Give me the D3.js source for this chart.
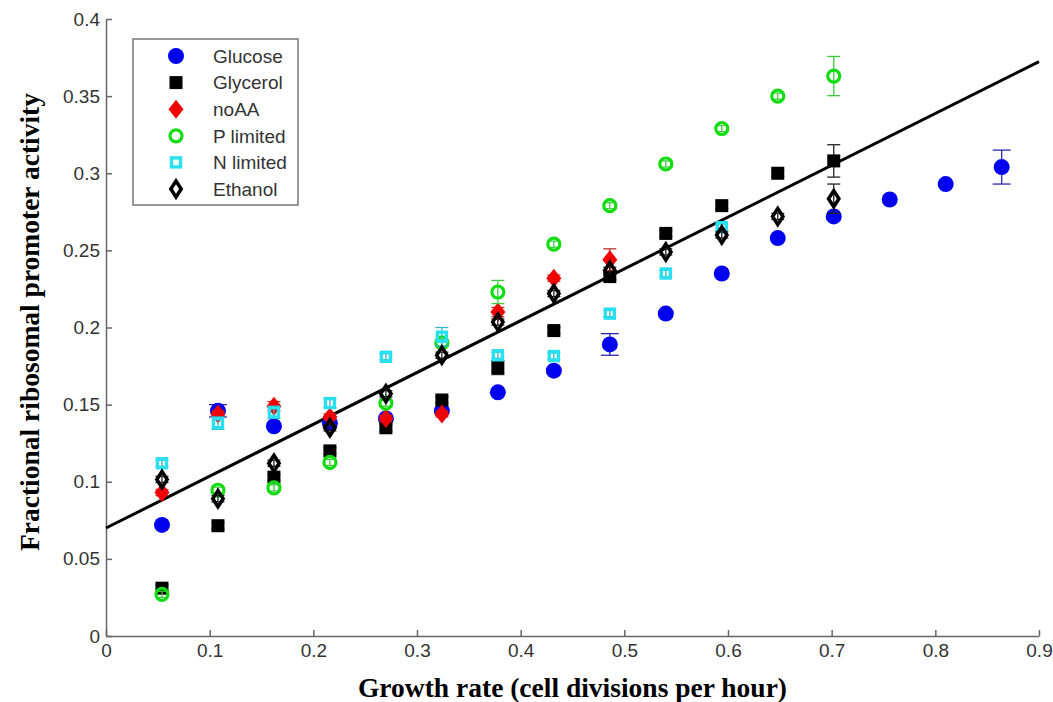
<!DOCTYPE html>
<html>
<head>
<meta charset="utf-8">
<script src="https://cdn.jsdelivr.net/npm/d3@7"></script>
<style>
  html, body { margin: 0; padding: 0; background: #fff; }
  svg { display: block; }
</style>
</head>
<body>
<div id="chart"></div>
<script>
// growth rates (cell divisions per hour), same grid for every condition
const growth = [0.054, 0.108, 0.162, 0.216, 0.27, 0.324, 0.378, 0.432, 0.486, 0.54, 0.594, 0.648, 0.702, 0.756, 0.81, 0.864];

// error of 0 = bar hidden behind the marker in the figure
const glucose = [0.072, 0.146, 0.136, 0.138, 0.141, 0.146, 0.158, 0.172, 0.189, 0.209, 0.235, 0.258, 0.272, 0.283, 0.293, 0.304];
const glucoseErr = [0, 0.004, 0, 0, 0, 0, 0, 0, 0.007, 0, 0, 0, 0, 0, 0, 0.011];
const glycerol = [0.031, 0.0715, 0.103, 0.12, 0.135, 0.153, 0.174, 0.198, 0.233, 0.261, 0.279, 0.300, 0.308];
const glycerolErr = [0.002, 0.002, 0.002, 0.002, 0.002, 0.002, 0.0045, 0.002, 0.002, 0.002, 0.002, 0.002, 0.0105];
const noAA = [0.093, 0.144, 0.149, 0.142, 0.141, 0.144, 0.210, 0.232, 0.244];
const noAAErr = [0.002, 0.002, 0.003, 0.002, 0.002, 0.002, 0.003, 0.002, 0.007];
const pLimited = [0.027, 0.0945, 0.096, 0.1125, 0.151, 0.19, 0.223, 0.254, 0.279, 0.306, 0.329, 0.350, 0.363];
const pLimitedErr = [0.002, 0.002, 0.002, 0.002, 0.002, 0.002, 0.0075, 0.002, 0.002, 0.002, 0.002, 0.002, 0.0127];
const nLimited = [0.112, 0.138, 0.145, 0.151, 0.181, 0.194, 0.182, 0.1815, 0.209, 0.235, 0.265];
const nLimitedErr = [0.002, 0.004, 0.004, 0.003, 0.002, 0.006, 0.002, 0.002, 0.002, 0.002, 0.002];
const ethanol = [0.1015, 0.089, 0.112, 0.135, 0.157, 0.182, 0.2035, 0.222, 0.237, 0.249, 0.260, 0.272, 0.2835];
const ethanolErr = [0.002, 0.002, 0.002, 0.002, 0.002, 0.002, 0.002, 0.002, 0.002, 0.002, 0.002, 0.002, 0.0095];

// linear fit: activity = intercept + slope * growth
const fitIntercept = 0.07;
const fitSlope = 0.336;

const xTicks = [0, 0.1, 0.2, 0.3, 0.4, 0.5, 0.6, 0.7, 0.8, 0.9];
const yTicks = [0, 0.05, 0.1, 0.15, 0.2, 0.25, 0.3, 0.35, 0.4];

const series = [
  { name: 'Glucose', values: glucose, err: glucoseErr, shape: 'circle', fill: '#0000f0', stroke: 'none', bar: '#2a2aa8', cap: 9 },
  { name: 'Glycerol', values: glycerol, err: glycerolErr, shape: 'square', fill: '#000', stroke: 'none', bar: '#222', cap: 6.5 },
  { name: 'noAA', values: noAA, err: noAAErr, shape: 'diamond', fill: '#f00000', stroke: 'none', bar: '#c03030', cap: 6.5 },
  { name: 'P limited', values: pLimited, err: pLimitedErr, shape: 'ring', fill: 'none', stroke: '#10dd10', bar: '#40c840', cap: 6.5 },
  { name: 'N limited', values: nLimited, err: nLimitedErr, shape: 'box', fill: 'none', stroke: '#28e0f0', bar: '#30b8c8', cap: 6.5 },
  { name: 'Ethanol', values: ethanol, err: ethanolErr, shape: 'odiamond', fill: 'none', stroke: '#000', bar: '#222', cap: 6.5 },
];

const width = 1053, height = 702;
const margin = { top: 19, right: 14, bottom: 66, left: 106 };
const innerW = width - margin.left - margin.right;
const innerH = height - margin.top - margin.bottom;

const svg = d3.select('#chart').append('svg').attr('width', width).attr('height', height);
svg.append('rect').attr('width', width).attr('height', height).attr('fill', '#fff');
const g = svg.append('g').attr('transform', `translate(${margin.left},${margin.top})`);

const x = d3.scaleLinear([0, 0.9], [0, innerW]);
const y = d3.scaleLinear([0, 0.4], [innerH, 0]);
const fmt = d3.format('~g');

const xAxis = g.append('g').attr('transform', `translate(0,${innerH})`)
  .call(d3.axisBottom(x).tickValues(xTicks).tickFormat(fmt).tickSizeInner(-6).tickSizeOuter(0).tickPadding(8));
const yAxis = g.append('g')
  .call(d3.axisLeft(y).tickValues(yTicks).tickFormat(fmt).tickSizeInner(-6).tickSizeOuter(0).tickPadding(6));
[xAxis, yAxis].forEach((a) => {
  a.select('.domain').attr('stroke', '#666').attr('stroke-width', 1.5);
  a.selectAll('.tick line').attr('stroke', '#666').attr('stroke-width', 1.5);
  a.selectAll('.tick text').attr('fill', '#333').style('font-family', 'Liberation Sans, Arial, sans-serif').style('font-size', '19px');
});

function drawMarker(sel, s) {
  if (s.shape === 'circle') sel.append('circle').attr('r', 8).attr('fill', s.fill);
  else if (s.shape === 'square') sel.append('rect').attr('x', -6.5).attr('y', -6.5).attr('width', 13).attr('height', 13).attr('fill', s.fill);
  else if (s.shape === 'diamond') sel.append('path').attr('d', 'M0,-9.5L7.5,0L0,9.5L-7.5,0Z').attr('fill', s.fill);
  else if (s.shape === 'ring') sel.append('circle').attr('r', 6).attr('fill', 'none').attr('stroke', s.stroke).attr('stroke-width', 3.2);
  else if (s.shape === 'box') sel.append('rect').attr('x', -4.5).attr('y', -4.5).attr('width', 9).attr('height', 9).attr('fill', 'none').attr('stroke', s.stroke).attr('stroke-width', 3.4);
  else if (s.shape === 'odiamond') sel.append('path').attr('d', 'M0,-8L5.2,0L0,8L-5.2,0Z').attr('fill', 'none').attr('stroke', s.stroke).attr('stroke-width', 3.5).attr('stroke-linejoin', 'miter');
}

// fit line
g.append('line')
  .attr('x1', x(0)).attr('y1', y(fitIntercept))
  .attr('x2', x(0.9)).attr('y2', y(fitIntercept + fitSlope * 0.9))
  .attr('stroke', '#000').attr('stroke-width', 3);

series.forEach((s) => {
  const pts = s.values.map((v, i) => ({ gx: growth[i], v, e: s.err[i] }));
  const eb = g.append('g').attr('stroke', s.bar).attr('stroke-width', 1.3);
  pts.filter((p) => p.e > 0).forEach((p) => {
    const cx = x(p.gx), y0 = y(p.v - p.e), y1 = y(p.v + p.e);
    eb.append('line').attr('x1', cx).attr('x2', cx).attr('y1', y0).attr('y2', y1);
    eb.append('line').attr('x1', cx - s.cap).attr('x2', cx + s.cap).attr('y1', y0).attr('y2', y0);
    eb.append('line').attr('x1', cx - s.cap).attr('x2', cx + s.cap).attr('y1', y1).attr('y2', y1);
  });
  g.append('g').selectAll('g').data(pts).join('g')
    .attr('transform', (p) => `translate(${x(p.gx)},${y(p.v)})`)
    .each(function () { drawMarker(d3.select(this), s); });
});

// legend
const legend = svg.append('g').attr('transform', 'translate(133,39)');
legend.append('rect').attr('width', 165).attr('height', 166).attr('fill', '#fff').attr('stroke', '#777').attr('stroke-width', 1.5);
series.forEach((s, i) => {
  const row = legend.append('g').attr('transform', `translate(43,${17 + i * 26.6})`);
  drawMarker(row, s);
  row.append('text').attr('x', 37).attr('dy', '0.36em').attr('fill', '#333')
    .style('font-family', 'Liberation Sans, Arial, sans-serif').style('font-size', '19px').text(s.name);
});

// axis titles
svg.append('text').attr('x', margin.left + innerW / 2).attr('y', 697).attr('text-anchor', 'middle')
  .style('font-family', 'Liberation Serif, Times New Roman, serif').style('font-weight', 'bold').style('font-size', '27.5px')
  .text('Growth rate (cell divisions per hour)');
svg.append('text').attr('transform', 'translate(39,322) rotate(-90)').attr('text-anchor', 'middle')
  .style('font-family', 'Liberation Serif, Times New Roman, serif').style('font-weight', 'bold').style('font-size', '27.5px')
  .text('Fractional ribosomal promoter activity');
</script>
</body>
</html>
